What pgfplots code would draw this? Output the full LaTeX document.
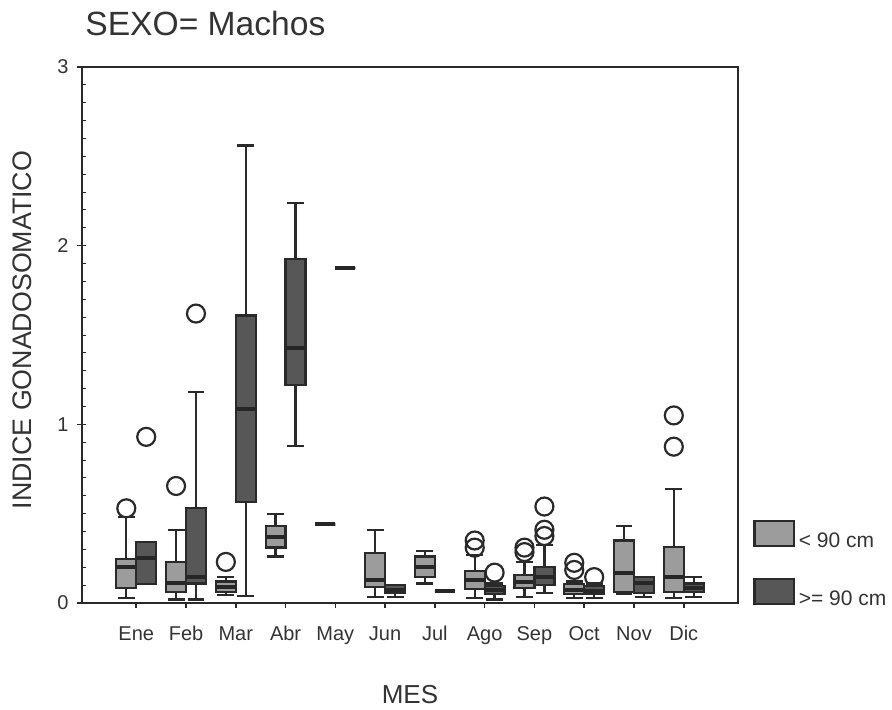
\documentclass[border=0pt]{standalone}
\usepackage{pgfplots}
\pgfplotsset{compat=1.18}
\usepgfplotslibrary{statistics}
\usepackage{fontspec}
\setmainfont{Liberation Sans}

\definecolor{ink}{HTML}{333333}
\definecolor{edge}{HTML}{2A2A2A}
\definecolor{lightfill}{HTML}{9C9C9C}
\definecolor{darkfill}{HTML}{575757}

\pgfplotsset{
  lt/.style={solid, draw=edge, fill=lightfill, line width=1.15pt,
    mark=o, mark size=4.5pt, mark options={draw=edge, line width=1.1pt, fill=none}},
  dk/.style={solid, draw=edge, fill=darkfill, line width=1.15pt,
    mark=o, mark size=4.5pt, mark options={draw=edge, line width=1.1pt, fill=none}},
  boxplot/every median/.style={draw=black!85, line width=2pt},
}

\begin{document}
\begin{tikzpicture}
\path[use as bounding box] (-41pt,-53pt) rectangle (405pt,301.5pt);
\begin{axis}[
  at={(0,0)}, anchor=south west,
  scale only axis, width=328pt, height=268pt,
  xmin=-0.09, xmax=13.09, ymin=0, ymax=3,
  xtick={1,...,12},
  xticklabels={Ene,Feb,Mar,Abr,May,Jun,Jul,Ago,Sep,Oct,Nov,Dic},
  ytick={0,1,2,3},
  extra y ticks={0.1,0.2,...,2.9},
  extra y tick labels={},
  extra tick style={tick align=inside, major tick length=2pt, major tick style={line width=0.5pt, draw=edge}},
  tick align=outside, major tick length=2.5pt,
  xtick pos=bottom, ytick pos=left,
  axis line style={draw=edge, line width=1pt},
  major tick style={draw=edge, line width=0.8pt},
  tick label style={font=\fontsize{10}{12}\selectfont, text=ink},
  /pgf/number format/assume math mode=true,
  xticklabel style={anchor=base, yshift=-16pt},
  yticklabel style={anchor=east, inner sep=0pt, xshift=-4pt},
  title={SEXO= Machos},
  title style={at={(axis description cs:0,1)}, anchor=base west, inner sep=0pt,
    xshift=1.5pt, yshift=10pt, font=\fontsize{16.8}{19}\selectfont, text=ink},
  xlabel={MES},
  xlabel style={at={(axis description cs:0.5,0)}, anchor=base, inner sep=0pt,
    yshift=-50pt, font=\fontsize{13}{15}\selectfont, text=ink},
  ylabel={INDICE GONADOSOMATICO},
  ylabel style={at={(axis description cs:0,0.5)}, anchor=center, inner sep=0pt,
    yshift=30pt, xshift=2.5pt, font=\fontsize{13.4}{15}\selectfont, text=ink},
  boxplot/draw direction=y,
  boxplot/box extend=0.4,
  boxplot/whisker extend=0.34,
  legend style={at={(axis description cs:1.023,0)}, anchor=south west, yshift=-5pt,
    draw=none, fill=none, inner sep=0pt, row sep=11.5pt,
    font=\fontsize{10.5}{12}\selectfont, text=ink,
    /tikz/every odd column/.append style={column sep=0pt}},
  legend cell align=left,
]
% legend keys
\addlegendimage{legend image code/.code={\draw[draw=edge, fill=lightfill, line width=1.15pt] (0pt,-2pt) rectangle (19.5pt,10.5pt);}}
\addlegendentry{< 90 cm}
\addlegendimage{legend image code/.code={\draw[draw=edge, fill=darkfill, line width=1.15pt] (0pt,-2pt) rectangle (19.5pt,10.5pt);}}
\addlegendentry{>= 90 cm}

% ---- < 90 cm ----
\addplot[lt, boxplot prepared={draw position=0.8, lower whisker=0.03, lower quartile=0.085, median=0.20, upper quartile=0.245, upper whisker=0.48}] coordinates {(0,0.53)};
\addplot[lt, boxplot prepared={draw position=1.8, lower whisker=0.02, lower quartile=0.06, median=0.11, upper quartile=0.23, upper whisker=0.41}] coordinates {(0,0.655)};
\addplot[lt, boxplot prepared={draw position=2.8, lower whisker=0.045, lower quartile=0.06, median=0.09, upper quartile=0.12, upper whisker=0.145}] coordinates {(0,0.23)};
\addplot[lt, boxplot prepared={draw position=3.8, lower whisker=0.26, lower quartile=0.31, median=0.37, upper quartile=0.43, upper whisker=0.50}] coordinates {};
\addplot[lt, boxplot prepared={draw position=4.8, lower whisker=0.44, lower quartile=0.44, median=0.44, upper quartile=0.44, upper whisker=0.44}] coordinates {};
\addplot[lt, boxplot prepared={draw position=5.8, lower whisker=0.035, lower quartile=0.09, median=0.13, upper quartile=0.28, upper whisker=0.41}] coordinates {};
\addplot[lt, boxplot prepared={draw position=6.8, lower whisker=0.11, lower quartile=0.145, median=0.20, upper quartile=0.26, upper whisker=0.29}] coordinates {};
\addplot[lt, boxplot prepared={draw position=7.8, lower whisker=0.03, lower quartile=0.08, median=0.13, upper quartile=0.18, upper whisker=0.27}] coordinates {(0,0.31) (0,0.35)};
\addplot[lt, boxplot prepared={draw position=8.8, lower whisker=0.035, lower quartile=0.085, median=0.12, upper quartile=0.155, upper whisker=0.23}] coordinates {(0,0.285) (0,0.31)};
\addplot[lt, boxplot prepared={draw position=9.8, lower whisker=0.03, lower quartile=0.05, median=0.075, upper quartile=0.105, upper whisker=0.12}] coordinates {(0,0.185) (0,0.225)};
\addplot[lt, boxplot prepared={draw position=10.8, lower whisker=0.05, lower quartile=0.06, median=0.17, upper quartile=0.35, upper whisker=0.43}] coordinates {};
\addplot[lt, boxplot prepared={draw position=11.8, lower whisker=0.03, lower quartile=0.06, median=0.145, upper quartile=0.315, upper whisker=0.64}] coordinates {(0,0.875) (0,1.05)};

% ---- >= 90 cm ----
\addplot[dk, boxplot prepared={draw position=1.2, lower whisker=0.105, lower quartile=0.105, median=0.25, upper quartile=0.34, upper whisker=0.34}] coordinates {(0,0.93)};
\addplot[dk, boxplot prepared={draw position=2.2, lower whisker=0.02, lower quartile=0.11, median=0.145, upper quartile=0.53, upper whisker=1.18}] coordinates {(0,1.62)};
\addplot[dk, boxplot prepared={draw position=3.2, lower whisker=0.04, lower quartile=0.565, median=1.085, upper quartile=1.61, upper whisker=2.56}] coordinates {};
\addplot[dk, boxplot prepared={draw position=4.2, lower whisker=0.88, lower quartile=1.22, median=1.43, upper quartile=1.925, upper whisker=2.24}] coordinates {};
\addplot[dk, boxplot prepared={draw position=5.2, lower whisker=1.875, lower quartile=1.875, median=1.875, upper quartile=1.875, upper whisker=1.875}] coordinates {};
\addplot[dk, boxplot prepared={draw position=6.2, lower whisker=0.035, lower quartile=0.055, median=0.075, upper quartile=0.10, upper whisker=0.10}] coordinates {};
\addplot[dk, boxplot prepared={draw position=7.2, lower whisker=0.065, lower quartile=0.065, median=0.065, upper quartile=0.065, upper whisker=0.065}] coordinates {};
\addplot[dk, boxplot prepared={draw position=8.2, lower whisker=0.02, lower quartile=0.05, median=0.075, upper quartile=0.095, upper whisker=0.11}] coordinates {(0,0.17)};
\addplot[dk, boxplot prepared={draw position=9.2, lower whisker=0.055, lower quartile=0.10, median=0.145, upper quartile=0.20, upper whisker=0.325}] coordinates {(0,0.375) (0,0.41) (0,0.54)};
\addplot[dk, boxplot prepared={draw position=10.2, lower whisker=0.03, lower quartile=0.05, median=0.07, upper quartile=0.095, upper whisker=0.11}] coordinates {(0,0.145)};
\addplot[dk, boxplot prepared={draw position=11.2, lower whisker=0.035, lower quartile=0.055, median=0.11, upper quartile=0.145, upper whisker=0.145}] coordinates {};
\addplot[dk, boxplot prepared={draw position=12.2, lower whisker=0.035, lower quartile=0.06, median=0.085, upper quartile=0.11, upper whisker=0.145}] coordinates {};
\end{axis}
\end{tikzpicture}
\end{document}
